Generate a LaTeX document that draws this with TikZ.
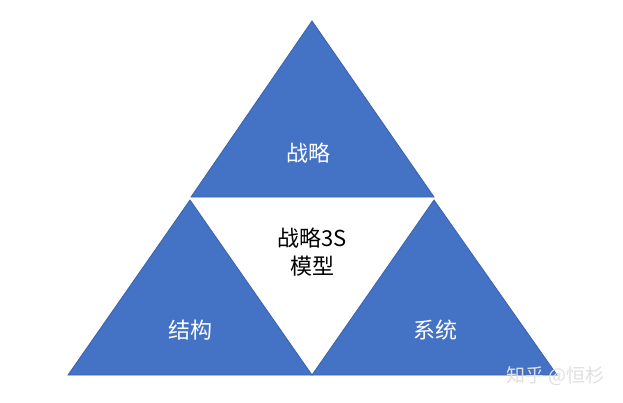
\documentclass[tikz,border=0pt]{standalone}
\usepackage{fontspec}
\setmainfont{Noto Sans CJK SC}
\definecolor{triblue}{HTML}{4472C4}
\definecolor{triedge}{HTML}{3A62AD}
\begin{document}
\begin{tikzpicture}[x=1pt,y=-1pt,
  tri/.style={fill=triblue,draw=triedge,line width=0.8pt,line join=miter},
  wlabel/.style={text=white,font=\fontsize{22}{26}\selectfont,inner sep=0pt},
  blabel/.style={text=black,font=\fontsize{22}{28}\selectfont,align=center,inner sep=0pt},
  wm/.style={text=white!88!black,font=\fontsize{19}{22}\selectfont,inner sep=0pt}]
\useasboundingbox (0,0) rectangle (623,402);
\fill[white] (0,0) rectangle (623,402);
\coordinate (A) at (312,21);
\coordinate (L) at (191,197);
\coordinate (R) at (434,197);
\coordinate (L2) at (190,200);
\coordinate (R2) at (434,200);
\coordinate (BL) at (68,375);
\coordinate (BM) at (312,375);
\coordinate (BR) at (557,375);
\draw[tri] (A) -- (L) -- (R) -- cycle;
\draw[tri] (L2) -- (BL) -- (BM) -- cycle;
\draw[tri] (R2) -- (BM) -- (BR) -- cycle;
\node[wlabel] (top) at (308,153) {战略};
\node[wlabel] (left) at (190,330) {结构};
\node[wlabel] (right) at (435,330) {系统};
\node[blabel] (mid) at (312,252) {战略3S\\模型};
\node[wm,anchor=west] (mark) at (506,376) {知乎 @恒杉};
\end{tikzpicture}
\end{document}
